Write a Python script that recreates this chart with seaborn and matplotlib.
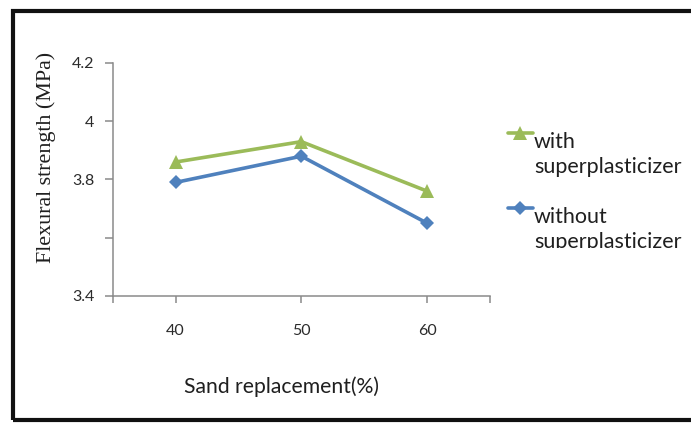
import matplotlib
matplotlib.use("Agg")
import matplotlib.pyplot as plt
import seaborn as sns
import pandas as pd
from matplotlib.patches import Rectangle
from matplotlib.transforms import Bbox, TransformedBbox

# Flexural strength vs. sand replacement level
sand_replacement = ["40", "50", "60"]
with_sp = [3.86, 3.93, 3.76]
without_sp = [3.79, 3.88, 3.65]
series_names = ["with", "without"]
series_second_line = "superplasticizer"
y_ticks = [3.4, 3.6, 3.8, 4.0, 4.2]
y_tick_labels = ["3.4", "", "3.8", "4", "4.2"]
x_label = "Sand replacement(%)"
y_label = "Flexural strength (MPa)"

df = pd.DataFrame({
    x_label: sand_replacement * 2,
    y_label: with_sp + without_sp,
    "series": [series_names[0]] * len(with_sp) + [series_names[1]] * len(without_sp),
})

sns.set_theme(style="white")
plt.rcParams["font.family"] = ["Lato", "DejaVu Sans"]

W, H = 691, 426
fig = plt.figure(figsize=(W / 100, H / 100), dpi=100)
ax = fig.add_axes([112.7 / W, 1 - 296 / H, (490 - 112.7) / W, (296 - 63) / H])

palette = {series_names[0]: "#9BBB59", series_names[1]: "#4F81BD"}
markers = {series_names[0]: "^", series_names[1]: "D"}
sns.lineplot(data=df, x=x_label, y=y_label, hue="series", style="series",
             palette=palette, markers=markers, dashes=False, sort=False,
             linewidth=2.6, markeredgewidth=0, legend=False, ax=ax)
sizes = {0: 10, 1: 7}
for i, ln in enumerate(ax.lines[:2]):
    ln.set_markersize(sizes[i])
    ln.set_solid_joinstyle("miter")

ax.set_xlim(-0.5, 2.5)
ax.set_ylim(3.4, 4.2)
ax.set_xticks([-0.5, 0, 1, 2, 2.5])
ax.set_xticklabels([""] + sand_replacement + [""])
ax.set_yticks(y_ticks)
ax.set_yticklabels(y_tick_labels)

axis_gray = "#8a8a8a"
text_color = "#1f1f1f"
for side in ["top", "right"]:
    ax.spines[side].set_visible(False)
for side in ["left", "bottom"]:
    ax.spines[side].set_color(axis_gray)
    ax.spines[side].set_linewidth(1.1)
ax.tick_params(axis="x", direction="out", length=5, width=1.1, color=axis_gray,
               pad=15, labelsize=11.5, labelcolor="#2b2b2b")
ax.tick_params(axis="y", direction="out", length=6, width=1.1, color=axis_gray,
               pad=7, labelsize=11.5, labelcolor="#2b2b2b")
ax.tick_params(bottom=True, left=True)

ax.set_xlabel(x_label, fontsize=15.2, color=text_color, va="baseline")
ax.xaxis.set_label_coords((281 - 112.7) / (490 - 112.7), (296 - 393) / 233)
ax.set_ylabel(y_label, fontsize=15.8, color=text_color, family="Liberation Serif", va="center")
ax.yaxis.set_label_coords((46 - 112.7) / (490 - 112.7), (296 - 157) / 233)

# legend to the right of the plot, each label on two lines;
# a tall handle box lifts the handle above the text line
legend_size = 15.5
fs = legend_size * 100 / 72
hh = (15 / fs - 0.245) / 0.15
top_above_baseline = fs * (0.3 * hh + 0.49)
item_height = top_above_baseline + 0.35 * fs * (hh - 0.7)
leg = ax.legend(handles=ax.lines[:2], labels=series_names, loc="upper left",
                bbox_to_anchor=(508 / W, 1 - (148 - top_above_baseline) / H),
                bbox_transform=fig.transFigure, frameon=False, borderpad=0,
                borderaxespad=0, handlelength=1.15, handleheight=hh,
                handletextpad=0.05, labelspacing=(75 - item_height) / fs,
                fontsize=legend_size, labelcolor=text_color)
fig.canvas.draw()
clip = TransformedBbox(Bbox([[0, 1 - 247.5 / H], [1, 1]]), fig.transFigure)
for t in leg.get_texts():
    a = ax.annotate(series_second_line, xy=(0, 0), xycoords=t, xytext=(0, -25),
                    textcoords="offset pixels", ha="left", va="bottom",
                    fontsize=legend_size, color=text_color, zorder=6)
    a.set_clip_on(True)
    a.set_clip_box(clip)

# black frame around the chart area
frame = Rectangle((13 / W, 1 - 420 / H), 1.2, (420 - 11) / H, transform=fig.transFigure,
                  fill=False, edgecolor="#111111", linewidth=3.0, clip_on=False)
fig.add_artist(frame)

fig.savefig("out.png", dpi=100)
